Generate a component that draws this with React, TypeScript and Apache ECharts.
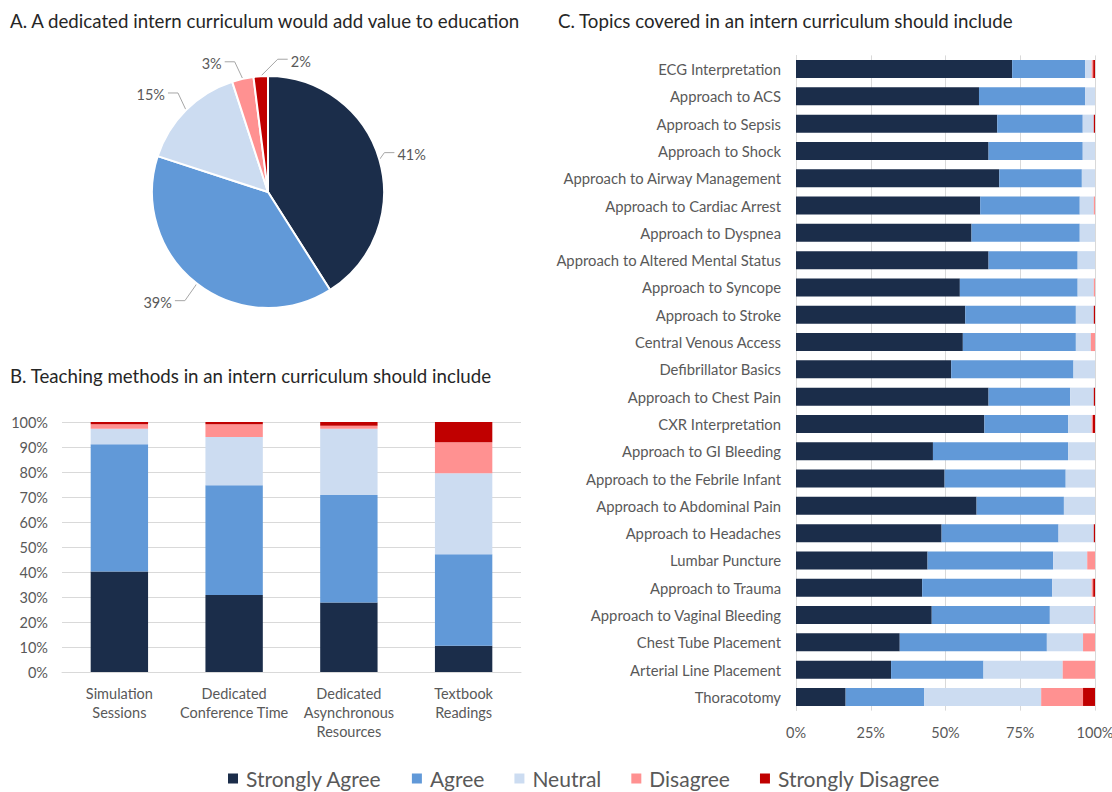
import React, { useEffect, useRef } from "react";
import * as echarts from "echarts";

const levels = ["Strongly Agree", "Agree", "Neutral", "Disagree", "Strongly Disagree"];
const colors = ["#1B2D4A", "#6199D8", "#CCDCF1", "#FF9191", "#C00000"];

// A. pie
const pieValues = [41, 39, 15, 3, 2];

// B. teaching methods
const methods = ["Simulation\nSessions", "Dedicated\nConference Time", "Dedicated\nAsynchronous\nResources", "Textbook\nReadings"];
const methodSA = [40.2, 30.8, 27.8, 10.5];
const methodA = [50.9, 43.9, 43.0, 36.6];
const methodN = [6.2, 19.3, 26.5, 32.4];
const methodD = [1.8, 5.1, 1.2, 12.4];
const methodSD = [0.9, 0.9, 1.5, 8.1];

// C. topics
const topics = [
  "ECG Interpretation", "Approach to ACS", "Approach to Sepsis", "Approach to Shock",
  "Approach to Airway Management", "Approach to Cardiac Arrest", "Approach to Dyspnea",
  "Approach to Altered Mental Status", "Approach to Syncope", "Approach to Stroke",
  "Central Venous Access", "Defibrillator Basics", "Approach to Chest Pain", "CXR Interpretation",
  "Approach to GI Bleeding", "Approach to the Febrile Infant", "Approach to Abdominal Pain",
  "Approach to Headaches", "Lumbar Puncture", "Approach to Trauma", "Approach to Vaginal Bleeding",
  "Chest Tube Placement", "Arterial Line Placement", "Thoracotomy",
];
const topicSA = [72.3, 61.2, 67.3, 64.4, 68.0, 61.6, 58.7, 64.4, 54.8, 56.6, 55.8, 51.9, 64.4, 63.0, 45.8, 49.7, 60.4, 48.7, 44.0, 42.2, 45.4, 34.7, 31.8, 16.6];
const topicA = [24.4, 35.5, 28.6, 31.5, 27.6, 33.3, 36.2, 29.8, 39.4, 37.0, 37.8, 40.9, 27.3, 28.0, 45.2, 40.5, 29.2, 39.1, 42.0, 43.5, 39.5, 49.2, 30.9, 26.3];
const topicN = [2.2, 3.3, 3.7, 4.1, 4.4, 4.7, 5.1, 5.8, 5.4, 6.0, 5.0, 7.2, 7.9, 7.9, 9.0, 9.8, 10.4, 11.8, 11.4, 13.2, 14.7, 12.1, 26.5, 39.1];
const topicD = [0.5, 0, 0, 0, 0, 0.4, 0, 0, 0.4, 0, 1.4, 0, 0, 0.4, 0, 0, 0, 0, 2.6, 0.5, 0.4, 4.0, 10.8, 14.0];
const topicSD = [0.6, 0, 0.4, 0, 0, 0, 0, 0, 0, 0.4, 0, 0, 0.4, 0.7, 0, 0, 0, 0.4, 0, 0.6, 0, 0, 0, 4.0];

const FONT = "Lato";
const GRAY = "#595959";

export default function App() {
  const ref = useRef<HTMLDivElement>(null);
  useEffect(() => {
    const chart = echarts.init(ref.current!, null, { renderer: "svg" });
    const methodSets = [methodSA, methodA, methodN, methodD, methodSD];
    const topicSets = [topicSA, topicA, topicN, topicD, topicSD];
    // label leader geometry: [dx, dy, side]
    const leads = [[5, -7, 1], [-12, 17, -1], [-8, -17, -1], [-8, -17, -1], [17, -17, 1]];
    const titleStyle = { fontFamily: FONT, fontSize: 18.7, fontWeight: "normal", color: "#262626" };
    const option: any = {
      animation: false,
      textStyle: { fontFamily: FONT },
      title: [
        { text: "A. A dedicated intern curriculum would add value to education", left: 10, top: 11, padding: 0, textStyle: titleStyle },
        { text: "B. Teaching methods in an intern curriculum should include", left: 10, top: 366, padding: 0, textStyle: titleStyle },
        { text: "C. Topics covered in an intern curriculum should include", left: 558, top: 11, padding: 0, textStyle: titleStyle },
      ],
      legend: {
        left: 228,
        top: 768,
        icon: "rect",
        itemWidth: 10,
        itemHeight: 10,
        itemGap: 30,
        padding: 0,
        data: levels,
        textStyle: { fontFamily: FONT, fontSize: 21, color: GRAY, padding: [0, 0, 0, 3] },
      },
      grid: [
        { left: 62, right: 1112 - 521, top: 422, height: 250, outerBoundsMode: "none" },
        { left: 796, right: 1112 - 1095, top: 55.4, height: 655.2, outerBoundsMode: "none" },
      ],
      xAxis: [
        {
          gridIndex: 0, type: "category", data: methods,
          axisLine: { lineStyle: { color: "#D9D9D9" } }, axisTick: { show: false },
          axisLabel: { color: GRAY, fontSize: 14.5, lineHeight: 19, margin: 12, fontFamily: FONT, interval: 0 },
        },
        {
          gridIndex: 1, type: "value", min: 0, max: 100, interval: 25,
          axisLine: { show: false }, axisTick: { show: false },
          splitLine: { lineStyle: { color: "#D9D9D9" } },
          axisLabel: { color: GRAY, fontSize: 14.5, margin: 14, formatter: "{value}%", fontFamily: FONT },
        },
      ],
      yAxis: [
        {
          gridIndex: 0, type: "value", min: 0, max: 100, interval: 10,
          axisLine: { show: false }, axisTick: { show: false },
          splitLine: { lineStyle: { color: "#D9D9D9" } },
          axisLabel: { color: GRAY, fontSize: 14.5, margin: 14, formatter: "{value}%", fontFamily: FONT },
        },
        {
          gridIndex: 1, type: "category", data: topics, inverse: true,
          axisLine: { lineStyle: { color: "#D9D9D9" } }, axisTick: { show: false },
          axisLabel: { color: GRAY, fontSize: 14.8, margin: 15, fontFamily: FONT, interval: 0 },
        },
      ],
      series: [
        {
          type: "pie",
          center: [268, 192],
          radius: 116,
          startAngle: 90,
          data: levels.map((name, i) => ({ name, value: pieValues[i], itemStyle: { color: colors[i] } })),
          itemStyle: { borderColor: "#fff", borderWidth: 2 },
          label: { formatter: "{c}%", color: GRAY, fontSize: 14.5, fontFamily: FONT },
          labelLine: { length: 15, length2: 10, lineStyle: { color: "#A6A6A6" } },
          labelLayout: (p: any) => {
            if (!p.labelLinePoints) return {};
            const [dx, dy, side] = leads[p.dataIndex];
            const p0 = p.labelLinePoints[0];
            const p1 = [p0[0] + dx, p0[1] + dy];
            const p2 = [p1[0] + side * 10, p1[1]];
            return {
              x: p2[0] + side * 3, y: p2[1] + 2,
              align: side > 0 ? "left" : "right", verticalAlign: "middle",
              labelLinePoints: [p0, p1, p2],
            };
          },
        },
        ...levels.map((name, i) => ({
          type: "bar", name, stack: "b", xAxisIndex: 0, yAxisIndex: 0,
          barWidth: "50%", data: methodSets[i], itemStyle: { color: colors[i] },
        })),
        ...levels.map((name, i) => ({
          type: "bar", name, stack: "c", xAxisIndex: 1, yAxisIndex: 1,
          barWidth: "66%", data: topicSets[i], itemStyle: { color: colors[i] },
        })),
      ],
    };
    chart.setOption(option);
    return () => chart.dispose();
  }, []);
  return <div ref={ref} style={{ position: "absolute", left: 0, top: 0, width: 1112, height: 792, background: "#fff" }} />;
}
